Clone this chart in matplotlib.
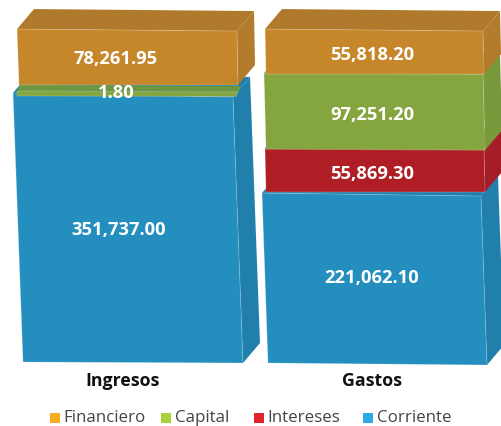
import numpy as np
import matplotlib
matplotlib.use("Agg")
import matplotlib.pyplot as plt
from matplotlib.patches import Polygon, Rectangle

# stacked from the bottom up
series = ["Corriente", "Intereses", "Capital", "Financiero"]
ingresos = [351737.00, 0.0, 1.80, 78261.95]
gastos = [221062.10, 55869.30, 97251.20, 55818.20]
labels_ing = ["351,737.00", "", "1.80", "78,261.95"]
labels_gas = ["221,062.10", "55,869.30", "97,251.20", "55,818.20"]
bar_names = ["Ingresos", "Gastos"]
legend_names = ["Financiero", "Capital", "Intereses", "Corriente"]

front = {"Corriente": "#248EBE", "Intereses": "#AF1E24", "Capital": "#85A53E", "Financiero": "#C5872A"}
side = {"Corriente": "#217FAB", "Intereses": "#A51D27", "Capital": "#789A3C", "Financiero": "#B37B2C"}
top = {"Corriente": "#217FAB", "Intereses": "#A51D27", "Capital": "#6C9740", "Financiero": "#B07A2C"}
legend_cols = ["#FBAB1F", "#A9D13A", "#E0242C", "#2FA9E4"]

W, H = 502, 426
PX = 1 / 0.000772   # value units per pixel
BASE = 363
MIN_H = 5 * PX      # tiny segments still get drawn

fig = plt.figure(figsize=(W / 100, H / 100), dpi=100)
ax = fig.add_axes([0, 0, 1, 1])
ax.set_xlim(0, W)
ax.set_ylim((BASE - H) * PX, BASE * PX)
ax.axis("off")


def draw_segment(name, bottom, height, xs, nudge, depth, label, text_off, text_x):
    # xs = left top, left bottom, right top, right bottom
    # nudge = pixel skew of the corners: top left, top right, bottom left, bottom right
    t = bottom + height
    tl = (xs[0], t - nudge[0] * PX)
    tr = (xs[2], t - nudge[1] * PX)
    bl = (xs[1], bottom - nudge[2] * PX)
    br = (xs[3], bottom - nudge[3] * PX)
    dx, dy = depth[0], depth[1] * PX
    ax.add_patch(Polygon([tr, (tr[0] + dx, tr[1] + dy), (br[0] + dx, br[1] + dy), br],
                         fc=side[name], ec="none"))
    ax.add_patch(Polygon([tl, (tl[0] + dx, tl[1] + dy), (tr[0] + dx, tr[1] + dy), tr],
                         fc=top[name], ec="none"))
    ax.add_patch(Polygon([tl, tr, br, bl], fc=front[name], ec=(1, 1, 1, 0.25), lw=0.6))
    if label:
        mid = bottom + height / 2 - text_off * PX
        ax.text(text_x, mid, label, color="white", ha="center", va="center",
                fontsize=13.2, fontweight="bold", family="Open Sans", zorder=10)


ing_xs = [(13, 23, 233, 243), (0, 0, 0, 0), (17, 17, 238, 236), (17, 19, 237, 238)]
ing_nudge = [(1.5, 5.5, -1, 0), (0, 0, 0, 0), (4.5, 5.5, 4.5, 5), (3, 5, -1.5, -1.5)]
ing_depth = [(17, 20), (0, 0), (3, 6), (17, 20)]
ing_off = [3, 0, 4, 3]

gas_xs = [(262, 268, 481, 487), (265, 266, 484, 485), (264, 266, 483, 485), (265, 266, 483, 484)]
gas_nudge = [(0.7, 3.7, 0, 2), (-1, 0, -0.3, -0.3), (-1, 0, 0, 1), (-2, 0, 0, 0)]
gas_depth = [(17, 20), (17, 20), (17, 20), (17, 20)]
gas_off = [0, 3, 3, 2]

b = 0
for name, v, xs, nd, dp, lab, off in zip(series, ingresos, ing_xs, ing_nudge, ing_depth, labels_ing, ing_off):
    if v == 0:
        continue
    h = max(v, MIN_H)
    draw_segment(name, b, h, xs, nd, dp, lab, off, 116 if name != "Corriente" else 119)
    b += h

b = 0
for name, v, xs, nd, dp, lab, off in zip(series, gastos, gas_xs, gas_nudge, gas_depth, labels_gas, gas_off):
    draw_segment(name, b, v, xs, nd, dp, lab, off, 372)
    b += v

for name, x in zip(bar_names, [123, 372]):
    ax.text(x, (BASE - 380.5) * PX, name, ha="center", va="center", color="#111111",
            fontsize=12.8, fontweight="bold", family="Open Sans")

for name, col, x, tx in zip(legend_names, legend_cols, [50, 161, 254, 363], [63, 175, 267, 377]):
    ax.add_patch(Rectangle((x, (BASE - 423) * PX), 10, 10 * PX, fc=col, ec="none"))
    ax.text(tx, (BASE - 418.5) * PX, name, ha="left", va="center", color="#444444",
            fontsize=12.2, family="Open Sans")

fig.savefig("out.png", dpi=100)
plt.close(fig)
